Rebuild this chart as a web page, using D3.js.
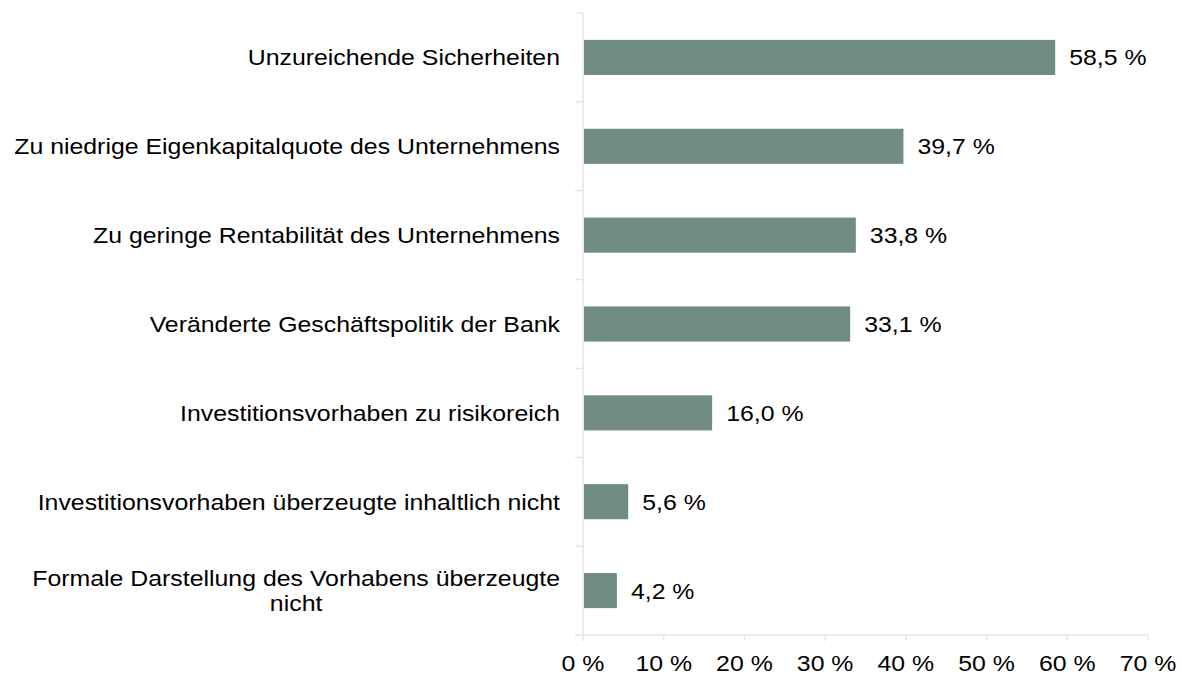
<!DOCTYPE html>
<html><head><meta charset="utf-8">
<script src="https://cdn.jsdelivr.net/npm/d3@7"></script>
<style>body{margin:0;background:#fff;} text{font-family:"Liberation Sans",Arial,sans-serif;}</style>
</head><body><svg id="c" width="1182" height="675"></svg>
<script>
const categories = [
  "Unzureichende Sicherheiten",
  "Zu niedrige Eigenkapitalquote des Unternehmens",
  "Zu geringe Rentabilität des Unternehmens",
  "Veränderte Geschäftspolitik der Bank",
  "Investitionsvorhaben zu risikoreich",
  "Investitionsvorhaben überzeugte inhaltlich nicht",
  "Formale Darstellung des Vorhabens überzeugte|nicht"
];
const values = [58.5, 39.7, 33.8, 33.1, 16.0, 5.6, 4.2];
const xTicks = [0, 10, 20, 30, 40, 50, 60, 70];

const svg = d3.select("#c");
const FS = 22, SX = 1.13;
const x = d3.scaleLinear().domain([0, 70]).range([583, 1148]);
const y = d3.scaleBand().domain(categories).range([13, 635]).paddingInner(0.605).paddingOuter(0.3025);
const band = d3.scaleBand().domain(categories).range([13, 635]);
const axisColor = "#ebe5e0";
const fmt = v => d3.format(".1f")(v).replace(".", ",") + " %";

function label(px, py, txt, anchor) {
  const t = svg.append("text").attr("transform", `translate(${px},${py}) scale(${SX},1)`)
    .attr("font-size", FS).attr("fill", "#000").attr("text-anchor", anchor || "start").text(txt);
  return t;
}

// y axis line and ticks
svg.append("line").attr("x1", x(0)).attr("x2", x(0)).attr("y1", 13).attr("y2", 635)
  .attr("stroke", axisColor).attr("stroke-width", 1.5);
const yBounds = categories.map(c => band(c)).concat([635]);
svg.selectAll(".yt").data(yBounds).join("line")
  .attr("x1", x(0) - 8).attr("x2", x(0)).attr("y1", d => d).attr("y2", d => d)
  .attr("stroke", axisColor).attr("stroke-width", 1.5);
// x axis line and ticks
svg.append("line").attr("x1", x(0) - 8).attr("x2", x(70)).attr("y1", 635).attr("y2", 635)
  .attr("stroke", axisColor).attr("stroke-width", 1.5);
svg.selectAll(".xt").data(xTicks).join("line")
  .attr("x1", d => x(d)).attr("x2", d => x(d)).attr("y1", 635).attr("y2", 641)
  .attr("stroke", axisColor).attr("stroke-width", 1.5);
xTicks.forEach(d => label(x(d), 671, d + " %", "middle"));

// bars
svg.selectAll(".bar").data(values).join("rect")
  .attr("x", x(0) + 1).attr("y", (d, i) => y(categories[i]))
  .attr("width", d => x(d) - x(0) - 1).attr("height", y.bandwidth())
  .attr("fill", "#718c80");
// value labels
values.forEach((d, i) => label(x(d) + 14, y(categories[i]) + y.bandwidth() / 2 + 8, fmt(d)));

// category labels
const right = 560;
categories.forEach((c, i) => {
  const lines = c.split("|");
  const cy = band(c) + band.bandwidth() / 2;
  const lh = 25;
  if (lines.length === 1) {
    label(right, cy + 8, c, "end");
  } else {
    const ts = lines.map((l, j) => label(0, 0, l, "middle"));
    const w = d3.max(ts, t => t.node().getBBox().width) * SX;
    ts.forEach((t, j) => t.attr("transform",
      `translate(${right - w / 2},${cy + 8 + (j - (lines.length - 1) / 2) * lh}) scale(${SX},1)`));
  }
});
</script></body></html>
